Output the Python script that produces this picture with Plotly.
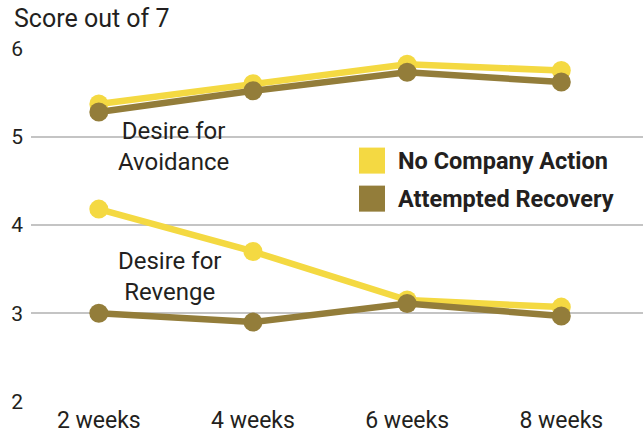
import plotly.graph_objects as go

weeks = ["2 weeks", "4 weeks", "6 weeks", "8 weeks"]
avoid_no_action = [5.37, 5.60, 5.82, 5.75]
avoid_recovery = [5.28, 5.52, 5.73, 5.62]
revenge_no_action = [4.18, 3.70, 3.15, 3.07]
revenge_recovery = [3.00, 2.90, 3.11, 2.97]
series_names = ["No Company Action", "Attempted Recovery"]
y_ticks = [2, 3, 4, 5, 6]

YELLOW = "#F4D942"
BROWN = "#937D3A"
FONT = "Roboto, sans-serif"
TXT = "#231f20"

fig = go.Figure()
for ys, col in [(avoid_no_action, YELLOW), (revenge_no_action, YELLOW),
                (avoid_recovery, BROWN), (revenge_recovery, BROWN)]:
    fig.add_trace(go.Scatter(x=weeks, y=ys, mode="lines+markers",
                             line=dict(color=col, width=6.5),
                             marker=dict(color=col, size=19),
                             showlegend=False, cliponaxis=False, hoverinfo="skip"))

# legend (manual)
for i, (name, col) in enumerate(zip(series_names, [YELLOW, BROWN])):
    yc = 160.5 + 38 * i
    fig.add_shape(type="rect", xref="paper", yref="paper",
                  x0=(359 - 31) / 612, x1=(385 - 31) / 612,
                  y0=(401.7 - (yc + 13)) / 353.7, y1=(401.7 - (yc - 13)) / 353.7,
                  fillcolor=col, line=dict(width=0))
    fig.add_annotation(text="<b>" + name + "</b>", xref="paper", yref="paper",
                       x=(396 - 31) / 612, y=(401.7 - yc) / 353.7,
                       xanchor="left", yanchor="middle", showarrow=False,
                       font=dict(family=FONT, size=23.5, color=TXT))

fig.add_annotation(text="Desire for<br>Avoidance", x=0.486, y=4.89, xref="x", yref="y",
                   showarrow=False, xanchor="center", yanchor="middle", align="center",
                   font=dict(family=FONT, size=24, color=TXT))
fig.add_annotation(text="Desire for<br>Revenge", x=0.46, y=3.42, xref="x", yref="y",
                   showarrow=False, xanchor="center", yanchor="middle", align="center",
                   font=dict(family=FONT, size=24, color=TXT))
fig.add_annotation(text="Score out of 7", xref="paper", yref="paper",
                   x=-19 / 612, y=(401.7 - 19) / 353.7, xanchor="left", yanchor="middle",
                   showarrow=False, font=dict(family=FONT, size=25, color=TXT))

fig.update_layout(
    width=643, height=435,
    margin=dict(l=31, r=0, t=48, b=33.3),
    paper_bgcolor="white", plot_bgcolor="white",
    font=dict(family=FONT, color=TXT),
    xaxis=dict(type="category", range=[-0.44, 3.53], showgrid=False, showline=False,
               ticks="", tickfont=dict(size=23), zeroline=False, ticklabelstandoff=2),
    yaxis=dict(range=[1.995, 6.005], tickvals=y_ticks, showgrid=True,
               gridcolor="#c4c4c4", gridwidth=1.5, zeroline=False, showline=False,
               ticks="", tickfont=dict(size=21), ticklabelstandoff=7),
)
fig.write_html("out.html")
